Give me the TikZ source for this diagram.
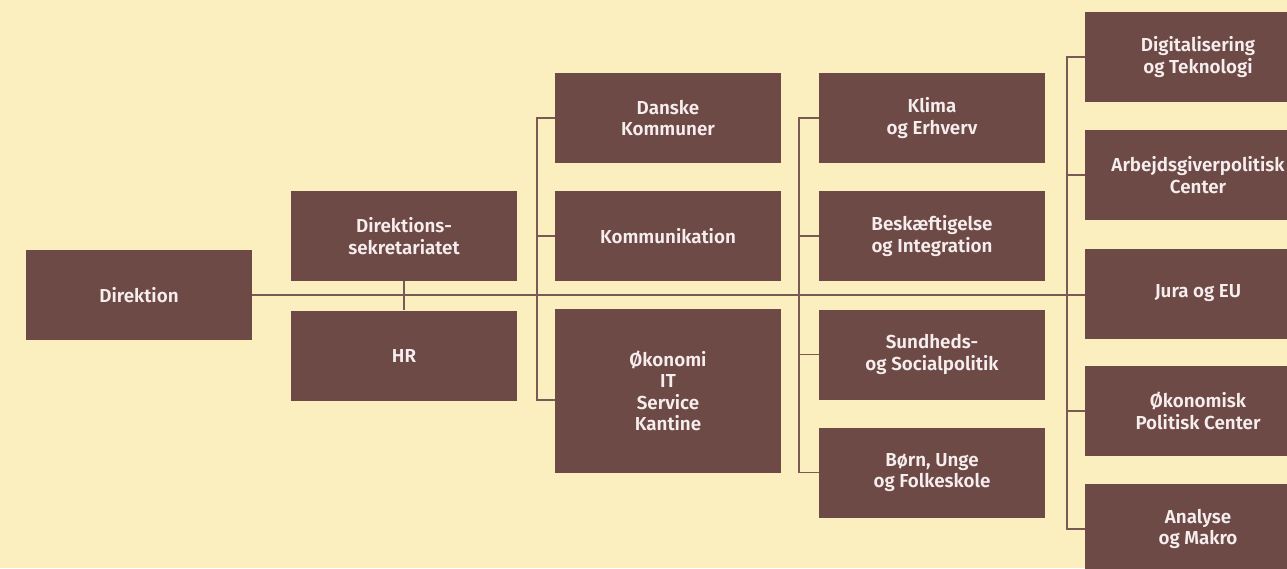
\documentclass[tikz,border=0pt]{standalone}
\usepackage{fontspec}
\setmainfont{Fira Sans}[BoldFont={* SemiBold}]
\definecolor{bg}{HTML}{FCEFBF}
\definecolor{box}{HTML}{6E4A47}
\definecolor{ln}{HTML}{7A5853}
\definecolor{txt}{HTML}{F6EEEE}
\begin{document}
\begin{tikzpicture}[x=1pt,y=-1pt,
  unit/.style={rectangle, fill=box, draw=none, inner sep=0pt, minimum width=226pt, minimum height=90pt,
    text=txt, align=center, font=\fontsize{18.8}{21.5}\selectfont\bfseries},
  tall/.style={unit, minimum height=164pt},
  conn/.style={draw=ln, line width=1.3pt}]
\useasboundingbox (0,0) rectangle (1287,568);
\fill[bg] (0,0) rectangle (1287,568);
% boxes
\node[unit] (dir) at (139,295) {Direktion};
\node[unit] (sek) at (404,236) {Direktions-\\sekretariatet};
\node[unit] (hr) at (404,355.5) {HR};
\node[unit] (dk) at (668,118) {Danske\\Kommuner};
\node[unit] (kom) at (668,236) {Kommunikation};
\node[tall] (oko) at (668,391) {Økonomi\\IT\\Service\\Kantine};
\node[unit] (klima) at (932,118) {Klima\\og Erhverv};
\node[unit] (besk) at (932,236) {Beskæftigelse\\og Integration};
\node[unit] (sund) at (932,354.5) {Sundheds-\\og Socialpolitik};
\node[unit] (born) at (932,472.5) {Børn, Unge\\og Folkeskole};
\node[unit] (digi) at (1198,57) {Digitalisering\\og Teknologi};
\node[unit] (arb) at (1198,175) {Arbejdsgiverpolitisk\\Center};
\node[unit] (jura) at (1198,293.5) {Jura og EU};
\node[unit] (okp) at (1198,411) {Økonomisk\\Politisk Center};
\node[unit] (ana) at (1198,529) {Analyse\\og Makro};
% bus coordinates
\coordinate (b3) at (537,295);
\coordinate (b4) at (799,295);
\coordinate (b5) at (1067,295);
\coordinate (okob) at (555,400);
% connectors
\draw[conn] (dir.east) -- (b5);
\draw[conn] (sek.south) -- (hr.north);
\draw[conn] (dk.west) -- (dk.west -| b3) -- (okob -| b3) -- (okob);
\draw[conn] (kom.west) -- (kom.west -| b3);
\draw[conn] (klima.west) -- (klima.west -| b4) -- (born.west -| b4) -- (born.west);
\draw[conn] (besk.west) -- (besk.west -| b4);
\draw[conn] (sund.west) -- (sund.west -| b4);
\draw[conn] (digi.west) -- (digi.west -| b5) -- (ana.west -| b5) -- (ana.west);
\draw[conn] (arb.west) -- (arb.west -| b5);
\draw[conn] (jura.west |- b5) -- (b5);
\draw[conn] (okp.west) -- (okp.west -| b5);
\end{tikzpicture}
\end{document}
